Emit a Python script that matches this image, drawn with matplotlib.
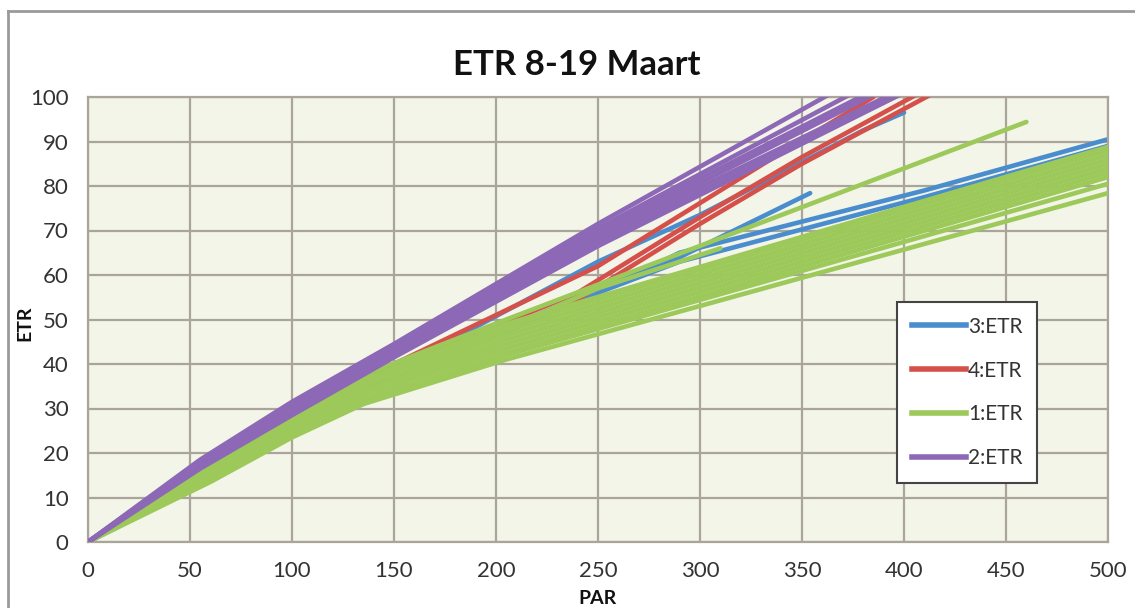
import matplotlib
matplotlib.use("Agg")
import matplotlib.pyplot as plt
from matplotlib.lines import Line2D

# ---------------- data ----------------
title = "ETR 8-19 Maart"
x_label = "PAR"
y_label = "ETR"
x_ticks = [0, 50, 100, 150, 200, 250, 300, 350, 400, 450, 500]
y_ticks = [0, 10, 20, 30, 40, 50, 60, 70, 80, 90, 100]

series_names = ["3:ETR", "4:ETR", "1:ETR", "2:ETR"]

# 3:ETR (blue) light curves
blue_par = [
    [0, 60, 100, 150, 250, 300, 380, 400],
    [0, 60, 100, 150, 250, 290, 354],
    [0, 60, 100, 150, 250, 290, 410, 500],
    [0, 60, 100, 125, 250, 290, 410, 500],
]
blue_etr = [
    [0, 16.5, 27.5, 38.5, 63, 73.5, 92.5, 96.5],
    [0, 15.5, 26.5, 37, 57, 64, 78.4],
    [0, 15.5, 26, 36.5, 56, 65, 79, 90.5],
    [0, 15, 25, 32.6, 56, 63, 77.5, 89],
]

# 4:ETR (red) light curves
red_par = [
    [0, 60, 100, 150, 240, 300, 350, 410],
    [0, 60, 100, 150, 240, 300, 350, 415],
    [0, 60, 100, 150, 250, 340, 385],
]
red_etr = [
    [0, 16.5, 28, 39, 56, 73, 86.5, 101.5],
    [0, 16, 27, 38, 54.5, 71.5, 85, 101],
    [0, 17, 29, 40, 62, 87.5, 100],
]

# 1:ETR (green) light curves
green_par = [
    [0, 60, 100, 135, 205, 460],
    [0, 60, 100, 135, 205, 250, 310],
    [0, 60, 100, 135, 205, 500],
    [0, 60, 100, 135, 205, 500],
    [0, 60, 100, 135, 205, 500],
    [0, 60, 100, 135, 205, 500],
    [0, 60, 100, 135, 205, 500],
    [0, 60, 100, 135, 205, 500],
    [0, 60, 100, 135, 205, 500],
    [0, 60, 100, 135, 205, 500],
    [0, 60, 100, 135, 205, 500],
    [0, 60, 100, 135, 205, 500],
]
green_etr = [
    [0, 17.5, 28.5, 37.5, 50, 94.4],
    [0, 17, 27.5, 36, 48, 57, 66],
    [0, 17, 28, 36.5, 49, 88.8],
    [0, 16.5, 27.5, 36, 48.5, 88],
    [0, 16, 27, 35.5, 47.5, 87],
    [0, 15.5, 26.5, 35, 46.5, 86],
    [0, 15, 26, 34, 45.5, 85],
    [0, 15, 25.5, 33.5, 44.5, 84],
    [0, 14.5, 25, 33, 43.5, 83],
    [0, 14, 24.5, 32, 42.5, 82],
    [0, 14, 24, 31.5, 42, 80.5],
    [0, 13.5, 23.5, 31, 41, 78.4],
]

# 2:ETR (purple) light curves
purple_par = [
    [0, 55, 100, 150, 250, 400],
    [0, 55, 100, 150, 250, 400],
    [0, 55, 100, 150, 250, 400],
    [0, 55, 100, 150, 250, 400],
    [0, 55, 100, 150, 250, 400],
    [0, 55, 100, 150, 250, 400],
    [0, 55, 100, 150, 250, 400],
]
purple_etr = [
    [0, 18.5, 31.5, 44.5, 71.5, 110],
    [0, 18, 31, 44, 70.5, 107],
    [0, 18, 30.5, 43.5, 70, 105],
    [0, 17.5, 30, 43, 69, 104],
    [0, 17, 29.5, 42.5, 68.5, 102],
    [0, 17, 29, 42, 67.5, 101],
    [0, 16.5, 28.5, 41.5, 66.5, 101],
]

colors = {"3:ETR": "#4A8DCF", "4:ETR": "#D6504B", "1:ETR": "#9CC95A", "2:ETR": "#8D68B6"}

# ---------------- figure ----------------
W, H = 1135, 608
fig = plt.figure(figsize=(W / 100, H / 100), dpi=100)
fig.patch.set_facecolor("white")
FONT = ["Lato", "DejaVu Sans"]

def px(x, y):
    return x / W, 1 - y / H

l, t = px(88, 97)
r, b = px(1108, 542)
ax = fig.add_axes([l, b, r - l, t - b])
ax.set_facecolor("#F2F5E8")

ax.set_xlim(0, 500)
ax.set_ylim(0, 100)
ax.set_xticks(x_ticks)
ax.set_yticks(y_ticks)
ax.grid(True, color="#ABA49B", linewidth=1.6, zorder=0)
ax.set_axisbelow(True)
for s in ax.spines.values():
    s.set_color("#ABA49B")
    s.set_linewidth(1.6)
ax.tick_params(length=0, labelsize=16, colors="#333333", pad=14)
for lab in ax.get_xticklabels() + ax.get_yticklabels():
    lab.set_family(FONT)

groups = [
    ("3:ETR", blue_par, blue_etr),
    ("4:ETR", red_par, red_etr),
    ("1:ETR", green_par, green_etr),
    ("2:ETR", purple_par, purple_etr),
]
z = 2
for name, pars, etrs in groups:
    for p, e in zip(pars, etrs):
        ax.plot(p, e, color=colors[name], lw=3.3, solid_joinstyle="round",
                solid_capstyle="round", zorder=z)
    z += 1

fig.text(*px(577, 65), title, ha="center", va="center", fontsize=25,
         fontweight="bold", family=FONT, color="#111111")
fig.text(*px(598, 598), x_label, ha="center", va="center", fontsize=14,
         fontweight="bold", family=FONT, color="#111111")
fig.text(*px(25, 323), y_label, ha="center", va="center", fontsize=14,
         fontweight="bold", family=FONT, color="#111111", rotation=90)

handles = [Line2D([0], [0], color=colors[n], lw=4) for n in series_names]
leg = ax.legend(handles, series_names, loc="upper left",
                bbox_to_anchor=px(897, 302), bbox_transform=fig.transFigure,
                borderaxespad=0, fancybox=False, framealpha=1,
                edgecolor="#444444", prop={"family": FONT, "size": 15},
                handlelength=2.6, handletextpad=0.1, labelspacing=1.15,
                borderpad=0.7)
leg.get_frame().set_linewidth(1.5)
for txt in leg.get_texts():
    txt.set_color("#333333")

# outer chart border (top and left visible)
fig.add_artist(Line2D([8 / W, 1.0], [1 - 11 / H, 1 - 11 / H], color="#9A9A9A",
                      lw=2, transform=fig.transFigure))
fig.add_artist(Line2D([8 / W, 8 / W], [0, 1 - 11 / H], color="#9A9A9A",
                      lw=2, transform=fig.transFigure))

fig.savefig("out.png", dpi=100)
